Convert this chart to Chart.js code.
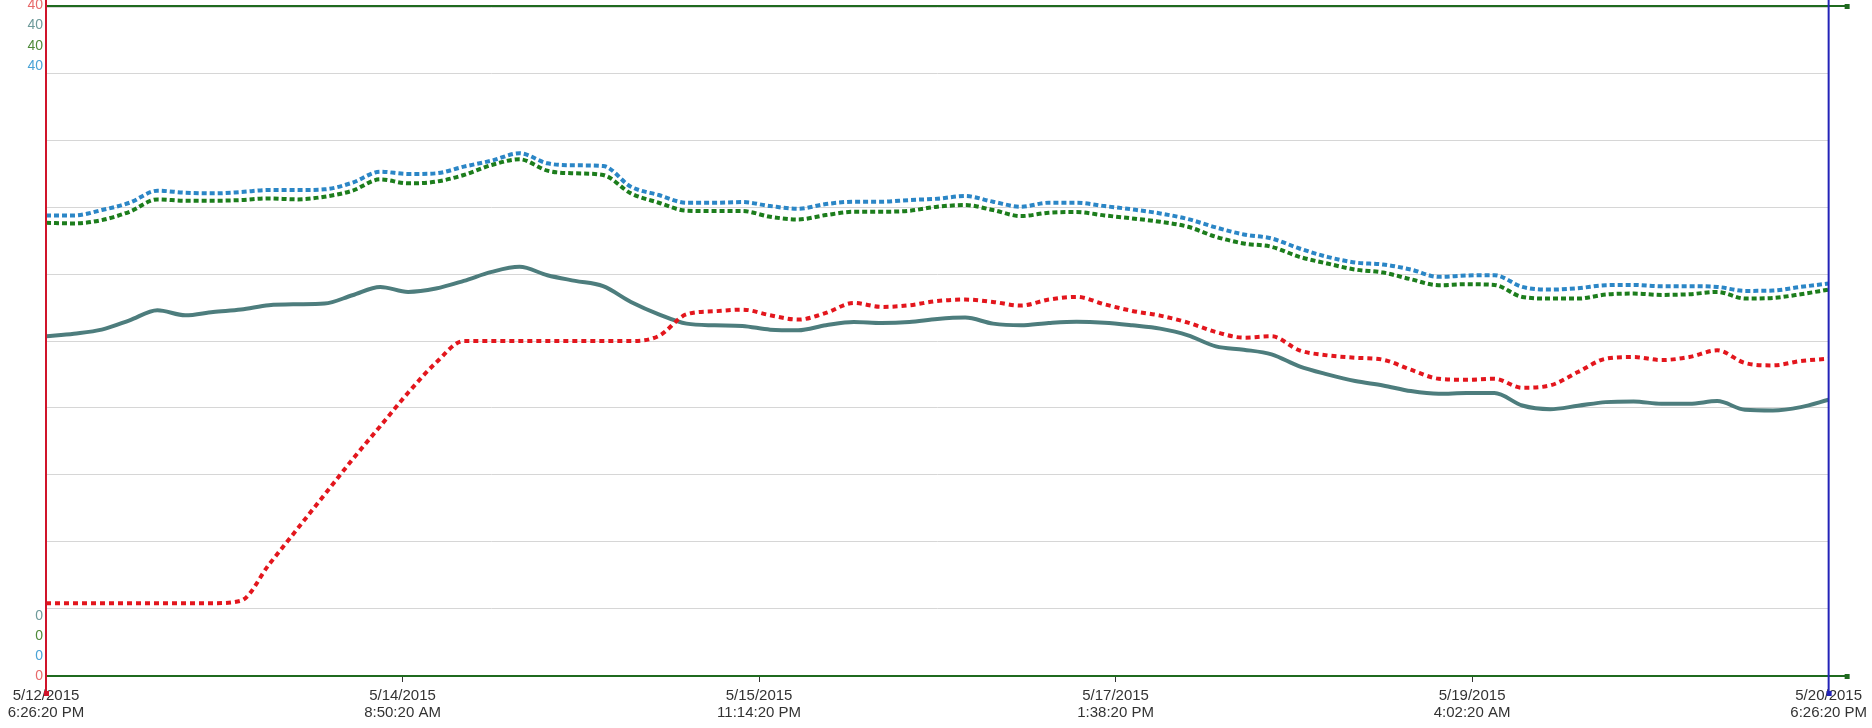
<!DOCTYPE html>
<html>
<head>
<meta charset="utf-8">
<title>Trend 5/12/2015 - 5/20/2015</title>
<script src="https://cdn.jsdelivr.net/npm/chart.js@4.4.1/dist/chart.umd.min.js"></script>
<style>
  html, body { margin:0; padding:0; background:#fff; }
  #wrap { position:relative; width:1872px; height:728px; }
</style>
</head>
<body>
<div id="wrap"><canvas id="chart"></canvas></div>
<script>
// ── data (hours since 5/12/2015 6:26:20 PM) ──
const hours = [0,3,6,9,12,15,18,21,24,27,30,33,36,39,42,45,48,51,54,57,60,63,66,69,72,75,78,81,84,87,90,93,
  96,99,102,105,108,111,114,117,120,123,126,129,132,135,138,141,144,147,150,153,156,159,162,165,168,171,174,177,180,183,186,189,192];

const tickHours  = [0, 38.4, 76.8, 115.2, 153.6, 192];
const tickLabels = [
  ['5/12/2015', '6:26:20 PM'],
  ['5/14/2015', '8:50:20 AM'],
  ['5/15/2015', '11:14:20 PM'],
  ['5/17/2015', '1:38:20 PM'],
  ['5/19/2015', '4:02:20 AM'],
  ['5/20/2015', '6:26:20 PM']
];

const blueVals = [27.52,27.52,27.84,28.28,29.0,28.88,28.84,28.92,29.04,29.04,29.08,29.48,30.14,30.0,30.04,30.44,
  30.8,31.24,30.64,30.52,30.48,29.24,28.74,28.28,28.28,28.32,28.08,27.92,28.2,28.34,28.34,28.44,
  28.52,28.68,28.34,28.04,28.28,28.28,28.08,27.88,27.64,27.3,26.8,26.38,26.14,25.54,25.04,24.7,
  24.58,24.28,23.84,23.92,23.94,23.24,23.08,23.16,23.34,23.36,23.28,23.28,23.24,23.0,23.02,23.24,23.44];

const greenVals = [27.08,27.04,27.24,27.74,28.48,28.4,28.4,28.44,28.54,28.48,28.64,29.0,29.68,29.44,29.54,29.94,
  30.54,30.88,30.2,30.04,29.94,28.84,28.28,27.8,27.78,27.78,27.44,27.28,27.54,27.74,27.74,27.8,
  28.04,28.14,27.84,27.48,27.68,27.72,27.52,27.34,27.14,26.84,26.24,25.84,25.64,25.04,24.64,24.28,
  24.1,23.7,23.34,23.4,23.36,22.64,22.54,22.54,22.78,22.84,22.76,22.8,22.94,22.54,22.58,22.8,23.08];

const tealVals = [20.28,20.44,20.68,21.24,21.84,21.54,21.74,21.88,22.14,22.2,22.24,22.74,23.24,22.94,23.14,23.6,
  24.14,24.44,23.94,23.6,23.28,22.34,21.6,21.04,20.94,20.9,20.68,20.64,20.94,21.14,21.08,21.14,
  21.32,21.4,21.04,20.94,21.08,21.16,21.1,20.94,20.74,20.34,19.68,19.48,19.2,18.48,18.0,17.6,
  17.34,17.0,16.84,16.88,16.88,16.14,15.92,16.12,16.34,16.38,16.24,16.24,16.4,15.88,15.84,16.04,16.48];

const redVals = [4.3,4.3,4.3,4.3,4.3,4.3,4.3,4.45,6.6,8.7,10.8,12.9,14.9,16.9,18.7,20.0,
  20.0,20.0,20.0,20.0,20.0,20.0,20.3,21.6,21.78,21.88,21.54,21.28,21.68,22.28,22.04,22.14,
  22.4,22.48,22.34,22.12,22.48,22.64,22.2,21.8,21.52,21.1,20.54,20.2,20.28,19.44,19.14,19.0,
  18.88,18.28,17.74,17.68,17.74,17.2,17.34,18.14,18.94,19.04,18.86,19.04,19.44,18.68,18.54,18.8,18.94];

const yMin = 0, yMax = 40;
const topAxisLabels    = ['40', '40', '40', '40'];   // red, teal, green, blue
const bottomAxisLabels = ['0', '0', '0', '0'];       // teal, green, blue, red

// ── colours ──
const C = {
  red:   '#e3161d',
  teal:  '#4d7d7d',
  green: '#1c7d1c',
  blue:  '#2b86c6',
  frame: '#1f6a1f'
};
const topLabelColors    = ['#e86a6a', '#6e9a9a', '#4f8a3a', '#4aa3d6'];
const bottomLabelColors = ['#6e9a9a', '#4f8a3a', '#4aa3d6', '#e86a6a'];

const pts = vals => vals.map((v, i) => ({ x: hours[i], y: v }));

// axis frame + stacked axis labels
const framePlugin = {
  id: 'frame',
  afterDraw(chart) {
    const { ctx, chartArea: a, scales: { y } } = chart;
    const yTop = y.getPixelForValue(yMax), yBot = y.getPixelForValue(yMin);
    const ext = a.right + 18, down = yBot + 18;
    ctx.save();
    // top / bottom green rules
    ctx.strokeStyle = C.frame; ctx.lineWidth = 2;
    ctx.beginPath();
    ctx.moveTo(a.left, yTop - 1); ctx.lineTo(ext, yTop - 1);
    ctx.moveTo(a.left, yBot + 1); ctx.lineTo(ext, yBot + 1);
    ctx.stroke();
    ctx.fillStyle = C.frame;
    ctx.fillRect(ext - 2, yTop - 3, 5, 5);
    ctx.fillRect(ext - 2, yBot - 1, 5, 5);
    // left red / right blue axis lines
    ctx.lineWidth = 2;
    ctx.strokeStyle = '#d0142a';
    ctx.beginPath(); ctx.moveTo(a.left, 0); ctx.lineTo(a.left, down); ctx.stroke();
    ctx.fillStyle = '#d0142a'; ctx.fillRect(a.left - 2, down - 2, 5, 5);
    ctx.strokeStyle = '#2323b8';
    ctx.beginPath(); ctx.moveTo(a.right, 0); ctx.lineTo(a.right, down); ctx.stroke();
    ctx.fillStyle = '#2323b8'; ctx.fillRect(a.right - 2, down - 2, 5, 5);
    // stacked axis labels
    ctx.font = '14px "Liberation Sans", Arial, sans-serif';
    ctx.textAlign = 'right'; ctx.textBaseline = 'middle';
    topAxisLabels.forEach((t, i) => {
      ctx.fillStyle = topLabelColors[i];
      ctx.fillText(t, a.left - 3, yTop - 2 + i * 20.4);
    });
    bottomAxisLabels.forEach((t, i) => {
      ctx.fillStyle = bottomLabelColors[i];
      ctx.fillText(t, a.left - 3, yBot + 1 - (3 - i) * 20);
    });
    ctx.restore();
  }
};

const lineDs = (vals, color, dash, order) => ({
  data: pts(vals),
  borderColor: color,
  backgroundColor: color,
  borderWidth: 4,
  borderDash: dash,
  pointRadius: 0,
  cubicInterpolationMode: 'monotone',
  fill: false,
  order
});

new Chart(document.getElementById('chart'), {
  type: 'line',
  data: {
    datasets: [
      lineDs(tealVals,  C.teal,  [],     4),
      lineDs(greenVals, C.green, [5, 3], 3),
      lineDs(blueVals,  C.blue,  [5, 3], 2),
      lineDs(redVals,   C.red,   [5, 4], 1)
    ]
  },
  options: {
    responsive: true,
    maintainAspectRatio: false,
    animation: false,
    layout: { padding: { left: 46, right: 43, top: 7, bottom: 0 } },
    plugins: { legend: { display: false }, tooltip: { enabled: false } },
    scales: {
      x: {
        type: 'linear', min: 0, max: 192,
        afterBuildTicks: s => { s.ticks = tickHours.map(v => ({ value: v })); },
        afterFit: s => { s.height = 53; },
        border: { display: false },
        grid: { drawOnChartArea: false, drawTicks: true, tickLength: 7, tickColor: '#333', color: '#333' },
        ticks: {
          autoSkip: false, maxRotation: 0, padding: 5,
          color: '#333',
          font: { family: '"Liberation Sans", Arial, sans-serif', size: 15, lineHeight: 1.13 },
          callback: (v, i) => tickLabels[i]
        }
      },
      y: {
        min: yMin, max: yMax,
        afterFit: s => { s.width = 0; },
        border: { display: false },
        grid: { color: '#d6d6d6', lineWidth: 1, drawTicks: false },
        ticks: { display: false, stepSize: 4 }
      }
    }
  },
  plugins: [framePlugin]
});
</script>
</body>
</html>
